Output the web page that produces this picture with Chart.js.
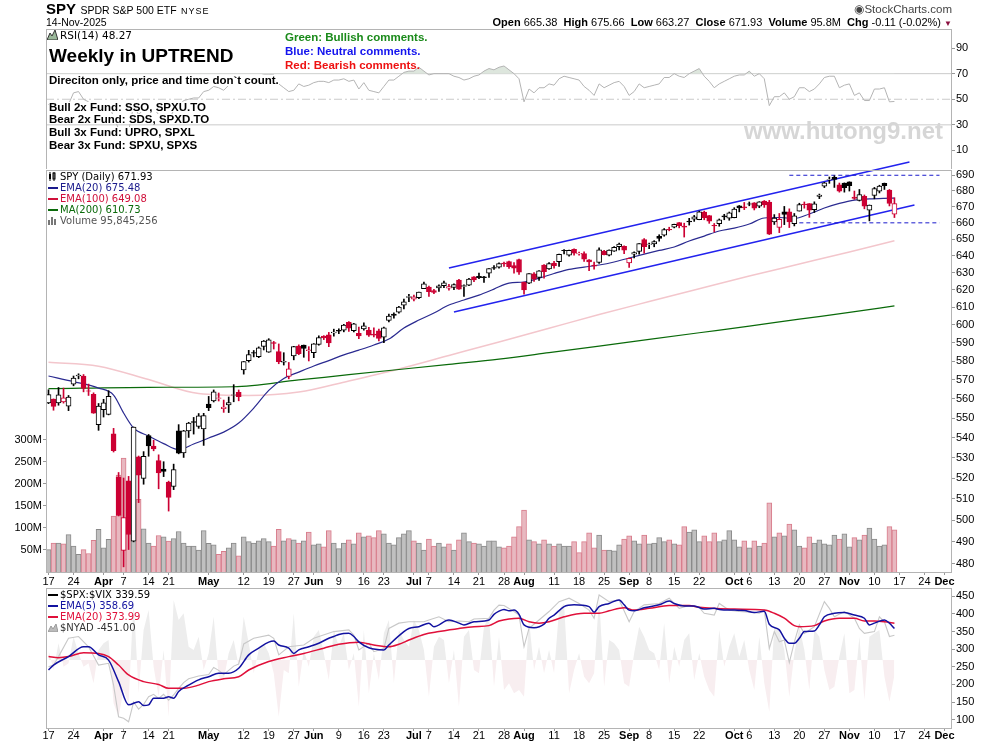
<!DOCTYPE html>
<html>
<head>
<meta charset="utf-8">
<title>SPY Daily</title>
<script src="https://cdn.jsdelivr.net/npm/chart.js@4.4.1/dist/chart.umd.min.js"></script>
<style>
  body { margin: 0; background: #fff; font-family: Arial, "Liberation Sans", sans-serif; }
  #wrap { position: relative; width: 990px; height: 744px; overflow: hidden; background: #fff; }
  canvas { position: absolute; left: 0; }
  #rsi { top: 0; }
  #main { top: 150px; }
  #breadth { top: 586px; }
  .t { position: absolute; white-space: nowrap; color: #000; }
  .leg { font-family: "DejaVu Sans", Verdana, sans-serif; font-size: 10px; line-height: 11px; }
  .leg svg { vertical-align: -1px; margin-right: 2px; }
  .note { position: absolute; white-space: nowrap; font-weight: bold; background: #fff; overflow: visible; }
  .fund { font-size: 11.5px; height: 10px; line-height: 10px; }
</style>
</head>
<body>
<div id="wrap">
  <canvas id="rsi" width="990" height="169"></canvas>
  <canvas id="main" width="990" height="442"></canvas>
  <canvas id="breadth" width="990" height="158"></canvas>

  <!-- header -->
  <div class="t" style="left:46px;top:0px;"><b style="font-size:15px;">SPY</b> <span style="font-size:10.5px;">SPDR S&amp;P 500 ETF</span> <span style="font-size:9px;letter-spacing:1px;">NYSE</span></div>
  <div class="t" style="left:46px;top:16px;font-size:10.5px;">14-Nov-2025</div>
  <div class="t" style="right:38px;top:2px;font-size:11.5px;color:#444;">&#9673;StockCharts.com</div>
  <div class="t" style="right:38px;top:16px;font-size:11px;"><b>Open</b> 665.38 &nbsp;<b>High</b> 675.66 &nbsp;<b>Low</b> 663.27 &nbsp;<b>Close</b> 671.93 &nbsp;<b>Volume</b> 95.8M &nbsp;<b>Chg</b> -0.11 (-0.02%) <span style="color:#8b1040;font-size:8px;">&#9660;</span></div>

  <!-- RSI panel texts -->
  <div class="t leg" style="left:47px;top:30px;font-size:10.5px;"><svg width="11" height="10"><polygon points="0,10 3,3 5,6 8,0 11,10" fill="#9ab89a" stroke="#333" stroke-width="1"/></svg>RSI(14) 48.27</div>
  <div class="note" style="left:49px;top:46px;font-size:19px;height:20px;line-height:20px;">Weekly in UPTREND</div>
  <div class="note" style="left:49px;top:75px;font-size:11.5px;height:11px;line-height:11px;">Direciton only, price and time don`t count.</div>
  <div class="note fund" style="left:49px;top:102px;">Bull 2x Fund: SSO, SPXU.TO</div>
  <div class="note fund" style="left:49px;top:114px;">Bear 2x Fund: SDS, SPXD.TO</div>
  <div class="note fund" style="left:49px;top:127px;">Bull 3x Fund: UPRO, SPXL</div>
  <div class="note fund" style="left:49px;top:140px;">Bear 3x Fund: SPXU, SPXS</div>
  <div class="t" style="left:285px;top:31px;font-size:11.5px;font-weight:bold;color:#1a8a1a;">Green: Bullish comments.</div>
  <div class="t" style="left:285px;top:45px;font-size:11.5px;font-weight:bold;color:#1414ee;">Blue: Neutral comments.</div>
  <div class="t" style="left:285px;top:59px;font-size:11.5px;font-weight:bold;color:#ee1111;">Red: Bearish comments.</div>
  <div class="t" style="right:47px;top:117px;font-size:24px;font-weight:bold;color:#d6d6d6;">www.hutong9.net</div>

  <!-- price panel legend -->
  <div class="t leg" style="left:48px;top:171px;"><svg width="10" height="9"><rect x="1" y="2" width="2" height="5" fill="#000"/><rect x="5" y="1" width="2" height="6" fill="#fff" stroke="#000" stroke-width="1"/><line x1="2" y1="0" x2="2" y2="9" stroke="#000"/><line x1="6" y1="0" x2="6" y2="9" stroke="#000"/></svg>SPY (Daily) 671.93</div>
  <div class="t leg" style="left:48px;top:182px;color:#1a1a8c;"><svg width="10" height="9"><rect x="0" y="4" width="10" height="2" fill="#1a1a8c"/></svg>EMA(20) 675.48</div>
  <div class="t leg" style="left:48px;top:193px;color:#d0103a;"><svg width="10" height="9"><rect x="0" y="4" width="10" height="2" fill="#d0103a"/></svg>EMA(100) 649.08</div>
  <div class="t leg" style="left:48px;top:204px;color:#0a6a0a;"><svg width="10" height="9"><rect x="0" y="4" width="10" height="2" fill="#0a6a0a"/></svg>MA(200) 610.73</div>
  <div class="t leg" style="left:48px;top:215px;color:#555;"><svg width="10" height="9"><rect x="0" y="4" width="2" height="5" fill="#777"/><rect x="3" y="1" width="2" height="8" fill="#777"/><rect x="6" y="3" width="2" height="6" fill="#777"/></svg>Volume 95,845,256</div>

  <!-- breadth panel legend -->
  <div class="t leg" style="left:48px;top:589px;"><svg width="10" height="9"><rect x="0" y="4" width="10" height="2" fill="#000"/></svg>$SPX:$VIX 339.59</div>
  <div class="t leg" style="left:48px;top:600px;color:#1212a0;"><svg width="10" height="9"><rect x="0" y="4" width="10" height="2" fill="#1212a0"/></svg>EMA(5) 358.69</div>
  <div class="t leg" style="left:48px;top:611px;color:#e0103a;"><svg width="10" height="9"><rect x="0" y="4" width="10" height="2" fill="#e0103a"/></svg>EMA(20) 373.99</div>
  <div class="t leg" style="left:48px;top:622px;color:#333;"><svg width="10" height="9"><polygon points="0,9 3,3 5,6 8,1 10,9" fill="#bbb" stroke="#999" stroke-width="1"/></svg>$NYAD -451.00</div>
</div>

<script>
// trading days shown on the x axis (last eleven are empty future days)
const dates = [
  '3/17','3/18','3/19','3/20','3/21','3/24','3/25','3/26','3/27','3/28','3/31',
  '4/1','4/2','4/3','4/4','4/7','4/8','4/9','4/10','4/11','4/14','4/15','4/16','4/17','4/21','4/22','4/23','4/24','4/25','4/28','4/29','4/30',
  '5/1','5/2','5/5','5/6','5/7','5/8','5/9','5/12','5/13','5/14','5/15','5/16','5/19','5/20','5/21','5/22','5/23','5/27','5/28','5/29','5/30',
  '6/2','6/3','6/4','6/5','6/6','6/9','6/10','6/11','6/12','6/13','6/16','6/17','6/18','6/20','6/23','6/24','6/25','6/26','6/27','6/30',
  '7/1','7/2','7/3','7/7','7/8','7/9','7/10','7/11','7/14','7/15','7/16','7/17','7/18','7/21','7/22','7/23','7/24','7/25','7/28','7/29','7/30','7/31',
  '8/1','8/4','8/5','8/6','8/7','8/8','8/11','8/12','8/13','8/14','8/15','8/18','8/19','8/20','8/21','8/22','8/25','8/26','8/27','8/28','8/29',
  '9/2','9/3','9/4','9/5','9/8','9/9','9/10','9/11','9/12','9/15','9/16','9/17','9/18','9/19','9/22','9/23','9/24','9/25','9/26','9/29','9/30',
  '10/1','10/2','10/3','10/6','10/7','10/8','10/9','10/10','10/13','10/14','10/15','10/16','10/17','10/20','10/21','10/22','10/23','10/24','10/27','10/28','10/29','10/30','10/31',
  '11/3','11/4','11/5','11/6','11/7','11/10','11/11','11/12','11/13','11/14',
  '11/17','11/18','11/19','11/20','11/21','11/24','11/25','11/26','11/28','12/1','12/2'
];

// axis labels: date -> text (month names bold)
const xTicks = [
  ['3/17','17'],['3/24','24'],['4/1','Apr'],['4/7','7'],['4/14','14'],['4/21','21'],
  ['5/1','May'],['5/12','12'],['5/19','19'],['5/27','27'],['6/2','Jun'],['6/9','9'],['6/16','16'],['6/23','23'],
  ['7/1','Jul'],['7/7','7'],['7/14','14'],['7/21','21'],['7/28','28'],['8/1','Aug'],['8/11','11'],['8/18','18'],['8/25','25'],
  ['9/2','Sep'],['9/8','8'],['9/15','15'],['9/22','22'],['10/1','Oct'],['10/6','6'],['10/13','13'],['10/20','20'],['10/27','27'],
  ['11/3','Nov'],['11/10','10'],['11/17','17'],['11/24','24'],['12/1','Dec']
];

// SPY daily [open, high, low, close] (dividend adjusted, as charted)
const ohlc = [
  [557.8,564.7,557.4,562.2],[559.8,559.9,554.0,556.0],[557.8,565.9,556.6,562.1],[558.3,565.6,557.7,560.5],
  [556.1,561.7,553.8,560.8],[567.6,572.0,566.8,570.9],[572.1,573.2,570.5,572.3],[572.0,572.8,563.6,565.4],
  [564.0,567.7,561.7,563.9],[562.3,563.1,552.4,552.5],[546.6,557.5,543.7,556.2],
  // Apr
  [554.3,559.7,550.5,557.8],[551.9,564.2,551.6,561.3],[541.9,544.7,532.8,533.5],[520.5,522.7,501.9,502.1],
  [486.0,520.0,478.6,501.2],[518.6,520.8,486.4,493.3],[490.2,545.4,489.9,545.4],[530.4,530.8,508.2,521.4],
  [519.8,533.0,517.0,530.7],[541.0,541.6,530.7,535.9],[535.8,538.7,533.4,534.4],[528.5,531.4,514.8,522.5],
  [524.4,528.0,520.7,523.2],[518.0,518.5,504.2,510.7],[515.9,526.8,514.4,524.1],[543.5,546.6,531.9,532.2],
  [532.3,543.7,530.1,543.5],[543.4,547.8,540.1,547.4],[548.2,550.3,541.8,547.7],[545.7,552.3,544.7,551.1],
  [544.4,552.4,536.1,551.3],
  // May
  [557.2,561.2,553.8,555.3],[558.8,564.6,558.3,563.6],[560.1,563.0,558.8,560.3],[554.8,559.3,552.9,555.6],
  [556.8,560.9,552.8,558.0],[561.8,567.4,558.4,561.9],[563.3,564.6,558.9,561.1],[575.3,579.8,573.0,579.8],
  [580.2,585.9,579.5,583.6],[584.6,585.8,582.3,584.4],[582.4,587.8,581.9,587.3],[588.1,591.3,586.1,591.0],
  [584.9,592.3,584.8,591.7],[589.9,590.8,586.6,589.7],[585.2,589.4,578.6,579.7],[579.5,584.6,577.9,579.9],
  [571.8,579.3,570.5,575.9],[582.8,588.1,580.7,588.0],[588.2,588.9,583.5,584.0],[588.8,588.8,582.1,586.9],
  [585.7,587.9,580.1,586.2],
  // Jun
  [584.6,589.6,581.9,589.5],[589.1,593.9,588.7,592.9],[593.8,594.0,591.8,592.7],[594.4,595.8,587.9,589.9],
  [595.5,597.6,593.7,595.9],[597.0,597.8,595.1,596.5],[597.0,600.3,596.1,599.9],[601.4,601.9,596.3,598.2],
  [596.8,600.8,596.0,600.6],[595.3,598.7,592.3,593.8],[597.7,601.2,597.0,599.5],[597.1,598.6,593.6,594.3],
  [594.8,598.3,593.3,594.2],[596.6,597.7,591.1,592.5],[593.2,598.7,590.1,598.4],[602.5,606.1,601.6,605.0],
  [606.1,606.8,603.7,605.3],[607.1,610.5,606.6,610.1],[611.1,614.6,609.0,613.1],[615.6,617.4,613.2,616.1],
  // Jul
  [614.6,617.0,613.6,615.9],[615.4,618.7,614.8,618.7],[620.7,624.5,620.6,623.5],[621.6,622.2,616.1,618.9],
  [619.6,620.3,617.7,618.5],[621.0,622.9,619.1,622.3],[622.4,625.1,621.2,624.0],[620.9,623.1,619.7,621.8],
  [621.4,623.4,620.0,623.0],[625.7,626.1,620.2,620.3],[621.9,622.9,616.2,622.4],[622.6,626.6,622.4,626.2],
  [627.5,627.7,624.7,625.8],[627.8,629.7,626.5,627.0],[627.6,627.9,624.2,627.1],[629.7,632.4,627.2,632.4],
  [632.8,634.2,631.9,632.6],[633.3,635.8,632.7,635.3],[635.7,636.2,633.7,635.1],[636.6,636.9,632.5,633.5],
  [634.1,635.9,629.7,632.7],[637.7,638.0,629.0,630.3],
  // Aug
  [624.5,624.5,617.5,619.9],[623.9,629.4,623.5,629.4],[629.3,630.0,624.8,626.2],[627.2,631.2,625.4,631.0],
  [634.5,634.7,626.7,630.5],[632.2,635.9,631.9,635.4],[635.6,636.7,632.6,634.1],[636.5,641.0,633.6,640.9],
  [643.1,643.7,641.1,643.1],[640.4,643.4,639.8,643.2],[643.8,644.1,640.3,641.6],[641.1,642.2,640.4,641.5],
  [641.3,642.3,636.7,638.0],[637.6,637.8,631.1,636.3],[634.5,636.2,632.0,633.8],[636.0,644.7,635.5,643.5],
  [642.6,643.3,640.5,640.7],[640.4,643.5,639.9,643.4],[642.8,645.6,642.6,645.0],[645.4,647.7,643.5,647.1],
  [645.7,646.0,641.3,643.3],
  // Sep
  [635.7,638.7,633.1,638.5],[640.9,642.4,638.7,641.9],[642.6,647.4,641.0,647.3],[649.7,650.4,641.5,645.4],
  [646.8,647.6,644.3,647.0],[647.2,649.1,645.4,648.5],[651.8,652.7,648.8,650.4],[652.4,656.5,651.8,655.8],
  [655.8,657.3,655.1,655.6],[657.4,659.2,656.9,659.1],[660.1,660.2,656.9,658.2],[658.0,659.8,651.3,657.4],
  [661.1,662.8,658.6,660.5],[662.3,664.6,660.9,663.7],[662.0,667.3,661.9,666.8],[666.7,667.3,661.9,663.2],
  [664.5,664.6,659.7,661.1],[658.2,659.6,654.4,658.1],[659.5,662.4,657.9,661.8],[664.4,665.3,661.9,663.7],
  [662.9,666.7,661.6,666.2],
  // Oct
  [663.2,669.4,663.1,668.5],[670.5,670.8,666.8,669.22],[669.9,672.7,668.2,669.21],[671.9,673.0,670.6,671.6],
  [672.5,672.6,668.0,669.1],[670.3,673.2,669.4,673.1],[673.5,673.9,669.6,671.2],[672.9,674.0,652.8,653.0],
  [660.6,665.1,659.0,663.0],[657.2,665.8,654.0,662.2],[666.8,670.2,658.9,665.2],[666.8,668.7,657.1,660.6],
  [659.5,665.8,658.1,664.4],[667.3,672.2,667.3,671.30],[671.4,673.0,669.1,671.29],[672.0,672.0,663.4,667.8],
  [668.1,673.1,666.4,671.8],[676.5,678.0,675.1,677.3],[683.0,685.5,682.1,685.2],[687.0,688.9,684.8,687.1],
  [688.7,689.7,682.2,687.4],[683.9,685.0,679.2,679.8],[685.0,685.1,679.2,682.1],
  // Nov
  [685.7,685.8,679.9,683.3],[676.1,679.9,674.6,675.2],[674.0,680.9,673.6,677.6],[676.5,677.4,668.7,670.3],
  [667.9,671.1,661.2,671.0],[677.2,682.2,675.0,681.4],[679.9,683.6,678.7,683.0],[684.8,685.0,680.9,683.4],
  [680.5,680.9,670.5,672.04],[665.38,675.66,663.27,671.93]
];

// volume, millions of shares
const volume = [
  51,66,66,64,85,59,40,51,42,72,
  97,55,74,127,220,259,170,244,165,98,
  66,59,83,80,70,76,92,66,59,59,
  50,94,65,62,40,47,55,66,37,80,
  69,66,71,76,69,59,97,71,76,73,
  66,71,91,62,64,57,94,66,53,66,
  73,64,89,80,82,78,94,87,66,62,
  78,87,94,71,66,50,75,59,66,57,
  64,50,73,89,69,66,64,59,71,71,
  57,55,59,80,103,141,73,69,64,73,
  64,59,64,59,59,69,44,69,89,55,
  84,50,50,48,62,75,82,71,64,84,
  64,66,78,69,73,64,62,103,91,96,
  69,82,69,89,69,73,94,73,57,71,
  55,71,59,66,157,80,89,82,109,96,
  59,55,80,66,73,64,62,84,75,87,
  57,78,73,84,100,75,59,62,103,95.8
];

// overlays: [day index, value]
const ema20 = [
  [0,572.0],[5,569.0],[10,565.6],[13,561.9],[15,552.6],[17,544.9],[20,540.8],[23,537.0],[26,534.0],[29,536.8],
  [32,539.8],[35,542.8],[38,547.4],[41,555.1],[44,564.4],[47,570.7],[50,574.1],[53,577.4],[56,580.3],[59,583.4],
  [62,586.0],[65,588.8],[68,592.1],[71,598.2],[74,602.7],[77,606.7],[80,611.2],[83,614.1],[86,616.9],[89,620.4],
  [92,623.9],[95,624.5],[98,626.8],[101,629.5],[104,631.9],[107,633.3],[110,634.5],[113,636.3],[116,638.7],[119,641.0],
  [122,643.2],[125,645.3],[128,648.9],[131,651.9],[134,655.0],[137,656.8],[140,659.3],[143,663.0],[146,663.3],[149,662.7],
  [152,665.5],[155,669.2],[158,672.1],[161,674.2],[164,674.9],[167,675.3],[169,675.48]
];
const ema100 = [
  [0,579.4],[10,577.3],[20,570.1],[30,562.7],[40,561.7],[50,563.5],[60,569.4],[70,575.8],[80,583.1],
  [90,590.5],[100,598.1],[110,605.8],[120,613.2],[130,620.6],[140,628.0],[150,635.1],[160,642.3],[169,649.08]
];
const ma200 = [
  [0,565.3],[20,566.0],[37,566.3],[50,569.9],[60,572.7],[70,575.5],[80,578.3],[90,581.1],
  [100,584.6],[110,588.2],[120,591.9],[130,595.6],[140,599.3],[150,603.2],[160,607.0],[169,610.73]
];
// hand drawn trend channel and horizontal levels
const channelUpper = [[80,632.7],[172,698.6]];
const channelLower = [[81,607.2],[173,671.1]];
const levelHigh = [[148,690],[178,690]];
const levelLow = [[150,660],[178,660]];

// RSI(14)
const rsi = [
  46,42,47,46,46,55,56,50,48,40,
  44,45,47,36,27,27,25,45,38,42,
  44,43,38,38,34,41,44,49,50,51,
  51,56,57,60,59,57,61,62,62,64,
  64,67,68,69,69,69,62,59,56,57,
  62,60,61,63,64,64,63,65,65,66,
  64,65,58,63,57,56,55,60,65,65,
  68,71,72,72,75,72,69,70,70,70,
  70,68,67,65,66,68,69,72,74,73,
  75,76,73,70,66,48,58,55,59,59,
  62,61,66,68,67,66,65,60,57,53,
  62,59,61,63,64,60,53,56,62,59,
  60,61,62,67,67,70,68,67,70,72,
  74,68,64,59,62,64,66,68,69,69,
  72,68,70,66,45,52,52,55,50,52,
  59,59,56,58,62,67,68,68,59,61,
  62,53,55,49,49,58,58,59,48,48.27
];

// lower panel: $SPX:$VIX ratio and its EMAs, [day index, value]
const spxVix = [
  [0,250],[1,255],[2,279],[4,331],[6,336],[8,307],[10,255],[12,260],[13,198],[14,108],[15,104],[16,94],
  [17,150],[18,130],[19,143],[20,165],[21,172],[22,160],[23,172],[24,155],[25,170],[26,189],[27,205],[28,216],
  [30,224],[32,228],[33,248],[34,240],[35,228],[36,240],[37,252],[38,258],[39,315],[41,331],[44,340],[45,331],
  [46,284],[48,307],[51,312],[53,331],[57,350],[60,355],[61,340],[62,298],[64,317],[65,293],[67,302],[68,359],
  [70,374],[72,378],[75,378],[76,383],[78,392],[80,378],[82,380],[84,378],[85,386],[88,388],[89,411],[90,425],
  [91,424],[93,407],[94,397],[95,307],[96,359],[98,383],[100,407],[102,435],[104,445],[106,430],[108,411],[109,388],
  [110,454],[112,435],[114,440],[116,378],[117,407],[119,426],[122,430],[124,445],[126,416],[128,424],[130,418],[131,402],
  [133,397],[134,430],[136,411],[138,407],[140,405],[142,402],[143,411],[144,302],[145,350],[146,321],[147,326],[148,262],
  [149,320],[150,369],[151,345],[153,364],[155,435],[156,416],[157,392],[159,407],[161,388],[162,359],[163,345],[165,350],
  [166,392],[167,378],[168,336],[169,339.59]
];
const vixEma5 = [
  [0,241],[1,255],[4,279],[7,307],[8,307],[10,284],[12,269],[14,208],[16,142],[18,151],[19,140],[20,142],
  [21,161],[23,161],[24,165],[25,161],[26,180],[28,198],[30,213],[32,222],[34,232],[36,232],[38,246],[40,284],
  [42,303],[44,320],[45,323],[46,312],[48,303],[49,288],[50,298],[52,307],[54,317],[56,331],[57,336],[58,342],
  [60,345],[61,336],[62,321],[64,304],[67,298],[68,312],[71,350],[72,359],[74,364],[76,374],[77,364],[80,383],
  [82,374],[83,369],[85,378],[88,383],[89,399],[90,408],[91,413],[92,409],[93,411],[94,399],[95,369],[97,361],
  [99,371],[100,388],[101,397],[103,421],[105,426],[108,421],[109,405],[110,421],[112,430],[114,440],[115,426],[116,411],
  [117,409],[119,418],[122,426],[124,437],[125,430],[127,423],[129,423],[131,414],[133,416],[134,413],[137,411],[139,410],
  [141,404],[143,408],[144,371],[146,355],[147,331],[148,317],[149,317],[150,331],[151,350],[153,352],[154,369],[155,392],
  [157,402],[159,404],[161,397],[163,388],[164,369],[165,374],[167,383],[168,374],[169,358.69]
];
const vixEma20 = [
  [0,279],[2,276],[4,279],[7,290],[10,288],[12,279],[14,255],[16,227],[19,208],[22,200],[24,189],[27,189],
  [30,198],[32,208],[35,216],[38,222],[40,241],[44,265],[48,279],[51,288],[55,303],[58,314],[62,320],[65,312],
  [68,307],[70,314],[72,326],[75,342],[78,350],[82,359],[85,364],[88,367],[90,380],[92,386],[94,388],[96,378],
  [98,374],[100,378],[103,392],[107,402],[110,402],[112,409],[115,418],[117,411],[120,416],[124,424],[128,424],[130,419],
  [137,414],[143,411],[145,402],[147,388],[149,367],[150,364],[153,367],[155,380],[158,388],[161,388],[163,380],[165,380],
  [167,378],[169,373.99]
];
// NYSE advance-decline line, daily
const nyad = [
  300,-300,500,-200,-100,700,200,-200,-100,-700,
  300,500,600,-1300,-1700,-900,-1300,1850,-1000,900,
  1500,-200,-1100,300,-1700,1800,1200,1400,400,300,
  700,-300,200,1300,-500,-600,200,600,-200,1300,
  500,-400,300,500,200,-400,-1700,-300,-400,1400,
  -800,300,-200,700,900,200,-600,900,400,800,
  -300,200,-1400,900,-1000,200,-600,800,1200,-700,
  900,600,400,1200,900,300,-1100,400,700,600,
  -700,300,-1400,700,900,-300,-400,1000,1300,-800,
  700,-900,-700,-1000,-900,-1100,1200,-300,400,-400,
  300,-400,1500,1700,-1000,-300,200,-500,-700,-400,
  1900,-800,600,500,300,-700,-800,200,1000,700,
  300,200,-300,1100,-700,400,-200,600,800,-600,
  200,-500,-900,-1100,900,-200,400,800,100,600,
  -300,-900,700,-700,-1550,1000,900,300,-1100,200,
  1000,300,-900,900,700,-300,-900,-800,100,800,
  -1000,-900,700,-1200,700,800,900,-500,-1250,-451
];

const priceTicks = [480,490,500,510,520,530,540,550,560,570,580,590,600,610,620,630,640,650,660,670,680,690];
const volTicks = [50,100,150,200,250,300];
const rsiTicks = [10,30,50,70,90];
const ratioTicks = [100,150,200,250,300,350,400,450];

Chart.defaults.font.family = 'Arial, "Liberation Sans", sans-serif';
Chart.defaults.animation = false;

const RED = '#cc0033';
const X_MIN = -0.5;
const X_MAX = dates.length - 0.5;
const tickList = xTicks.map(t => ({ i: dates.indexOf(t[0]), text: t[1], month: /^[A-Z]/.test(t[1]) }));
const pts = arr => arr.map(p => ({ x: p[0], y: p[1] }));

function xAxis(height, pad) {
  return {
    type: 'linear', min: X_MIN, max: X_MAX, offset: false,
    afterBuildTicks: s => { s.ticks = tickList.map(t => ({ value: t.i })); },
    afterFit: s => { s.height = height; s.paddingLeft = 0; s.paddingRight = 0; },
    grid: { drawOnChartArea: false, tickLength: 3, color: '#999', offset: false },
    border: { display: false },
    ticks: {
      autoSkip: false, maxRotation: 0, padding: pad, color: '#000',
      callback: v => { const t = tickList.find(k => k.i === v); return t ? t.text : ''; },
      font: ctx => {
        const t = ctx.tick && tickList.find(k => k.i === ctx.tick.value);
        return { size: 11, weight: t && t.month ? 'bold' : 'normal' };
      }
    }
  };
}

function rightAxis(min, max, ticks, type) {
  return {
    type: type || 'linear', position: 'right', min: min, max: max,
    afterBuildTicks: s => { s.ticks = ticks.map(v => ({ value: v })); },
    afterFit: s => { s.width = 38; s.paddingTop = 0; s.paddingBottom = 0; },
    grid: { drawOnChartArea: false, tickLength: 3, color: '#999' },
    border: { display: false },
    ticks: { padding: 1, color: '#000', font: { size: 11 }, callback: v => String(v) }
  };
}

// grey frame round each panel
const panelBox = {
  id: 'panelBox',
  afterDraw(chart) {
    const { ctx, chartArea: a } = chart;
    ctx.save();
    ctx.strokeStyle = '#b4b4b4';
    ctx.lineWidth = 1;
    ctx.strokeRect(Math.round(a.left) + 0.5, Math.round(a.top) + 0.5, Math.round(a.right - a.left) - 1, Math.round(a.bottom - a.top));
    ctx.restore();
  }
};

const baseOptions = {
  responsive: false,
  devicePixelRatio: 1,
  events: [],
  plugins: { legend: { display: false }, tooltip: { enabled: false } }
};

// RSI panel
new Chart(document.getElementById('rsi'), {
  type: 'line',
  data: {
    datasets: [
      { data: rsi.map((v, i) => ({ x: i, y: v })), borderColor: '#b4b4b4', borderWidth: 1, pointRadius: 0,
        fill: { target: { value: 70 }, above: '#dde6dd', below: 'rgba(0,0,0,0)' }, order: 0 },
      { data: [{ x: X_MIN, y: 70 }, { x: X_MAX, y: 70 }], borderColor: '#cacaca', borderWidth: 1, pointRadius: 0, order: 1 },
      { data: [{ x: X_MIN, y: 30 }, { x: X_MAX, y: 30 }], borderColor: '#cacaca', borderWidth: 1, pointRadius: 0, order: 1 },
      { data: [{ x: X_MIN, y: 50 }, { x: X_MAX, y: 50 }], borderColor: '#cacaca', borderWidth: 1, borderDash: [8, 3, 2, 3], pointRadius: 0, order: 1 }
    ]
  },
  options: Object.assign({}, baseOptions, {
    layout: { padding: { left: 46, top: 29 } },
    scales: {
      x: { type: 'linear', min: X_MIN, max: X_MAX, display: false },
      y: rightAxis(-4.5, 104.9, rsiTicks)
    }
  }),
  plugins: [panelBox]
});

// price panel
const candleColor = ohlc.map((c, i) => (i > 0 && c[3] < ohlc[i - 1][3]) ? RED : '#000000');
const bodyFill = ohlc.map((c, i) => c[3] > c[0] ? '#ffffff' : candleColor[i]);
const volFill = ohlc.map((c, i) => candleColor[i] === RED ? '#e8b8c0' : '#c0c0c0');
const volLine = ohlc.map((c, i) => candleColor[i] === RED ? '#d87d8c' : '#8a8a8a');

const priceY = rightAxis(476.3, 693.4, priceTicks, 'logarithmic');

new Chart(document.getElementById('main'), {
  type: 'bar',
  data: {
    datasets: [
      { type: 'bar', yAxisID: 'yv', data: volume.map((v, i) => ({ x: i, y: v })),
        backgroundColor: volFill, borderColor: volLine, borderWidth: 1, barThickness: 5, grouped: false, order: 10 },
      { type: 'line', data: pts(ema100), borderColor: '#f3c6cc', borderWidth: 1.5, pointRadius: 0, cubicInterpolationMode: 'monotone', order: 9 },
      { type: 'line', data: pts(ma200), borderColor: '#0a6a0a', borderWidth: 1.2, pointRadius: 0, cubicInterpolationMode: 'monotone', order: 8 },
      { type: 'line', data: pts(ema20), borderColor: '#2a2a90', borderWidth: 1.2, pointRadius: 0, cubicInterpolationMode: 'monotone', order: 7 },
      { type: 'line', data: pts(channelUpper), borderColor: '#2222ee', borderWidth: 1.5, pointRadius: 0, clip: false, order: 6 },
      { type: 'line', data: pts(channelLower), borderColor: '#2222ee', borderWidth: 1.5, pointRadius: 0, clip: false, order: 6 },
      { type: 'line', data: pts(levelHigh), borderColor: '#1a1acc', borderWidth: 1, borderDash: [4, 3], pointRadius: 0, order: 5 },
      { type: 'line', data: pts(levelLow), borderColor: '#1a1acc', borderWidth: 1, borderDash: [4, 3], pointRadius: 0, order: 5 },
      { type: 'bar', data: ohlc.map((c, i) => ({ x: i, y: [c[2], c[1]] })),
        backgroundColor: candleColor, borderWidth: 0, barThickness: 1, grouped: false, order: 2 },
      { type: 'bar', data: ohlc.map((c, i) => ({ x: i, y: [Math.min(c[0], c[3]), Math.max(c[0], c[3]) + (Math.abs(c[0] - c[3]) < 0.2 ? 0.2 : 0)] })),
        backgroundColor: bodyFill, borderColor: candleColor, borderWidth: 1, borderSkipped: false, barThickness: 5, grouped: false, order: 1 }
    ]
  },
  options: Object.assign({}, baseOptions, {
    layout: { padding: { top: 20 } },
    scales: {
      x: xAxis(20, 0),
      y: priceY,
      yv: {
        type: 'linear', position: 'left', min: 0, max: 913.6,
        afterBuildTicks: s => { s.ticks = volTicks.map(v => ({ value: v })); },
        afterFit: s => { s.width = 46; s.paddingTop = 0; s.paddingBottom = 0; },
        grid: { drawOnChartArea: false, tickLength: 3, color: '#999' },
        border: { display: false },
        ticks: { padding: 1, color: '#000', font: { size: 11 }, callback: v => v + 'M' }
      }
    }
  }),
  plugins: [panelBox]
});

// breadth panel
new Chart(document.getElementById('breadth'), {
  type: 'line',
  data: {
    datasets: [
      { yAxisID: 'yn', data: nyad.map((v, i) => ({ x: i, y: v })), borderWidth: 0, borderColor: 'rgba(0,0,0,0)', pointRadius: 0,
        fill: { target: { value: 0 }, above: '#ededed', below: '#f8eef0' }, order: 5 },
      { data: pts(spxVix), borderColor: '#c8c8c8', borderWidth: 1.1, pointRadius: 0, order: 3 },
      { data: pts(vixEma20), borderColor: '#e0103a', borderWidth: 1.5, pointRadius: 0, cubicInterpolationMode: 'monotone', order: 2 },
      { data: pts(vixEma5), borderColor: '#1212a0', borderWidth: 1.5, pointRadius: 0, cubicInterpolationMode: 'monotone', order: 1 }
    ]
  },
  options: Object.assign({}, baseOptions, {
    layout: { padding: { top: 2, left: 46 } },
    scales: {
      x: xAxis(16, -2),
      y: rightAxis(76.3, 473.8, ratioTicks),
      yn: { type: 'linear', display: false, min: -2040, max: 2160 }
    }
  }),
  plugins: [panelBox]
});
</script>
</body>
</html>
